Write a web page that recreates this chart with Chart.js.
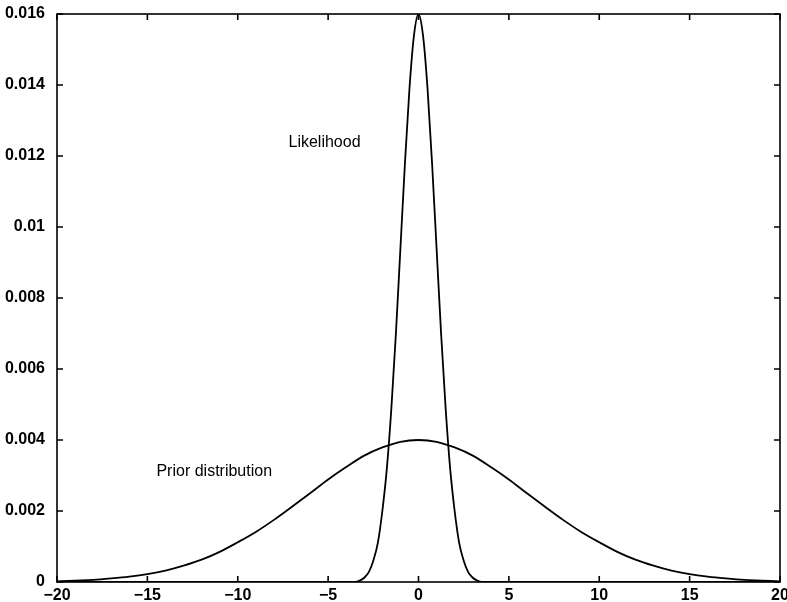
<!DOCTYPE html>
<html>
<head>
<meta charset="utf-8">
<script src="https://cdn.jsdelivr.net/npm/chart.js@4/dist/chart.umd.min.js"></script>
<style>
  html, body { margin: 0; padding: 0; background: #fff; }
  #wrap { width: 787px; height: 602px; position: relative; }
</style>
</head>
<body>
<div id="wrap"><canvas id="chart"></canvas></div>
<script>
// Prior distribution (wide curve)
const priorX = [-20, -19, -18, -17, -16, -15, -14, -13, -12, -11, -10, -9, -8, -7, -6, -5, -4, -3, -2, -1,
    0, 1, 2, 3, 4, 5, 6, 7, 8, 9, 10, 11, 12, 13, 14, 15, 16, 17, 18, 19, 20];
const priorY = [0.00002, 0.00004, 0.00006, 0.00010, 0.00015, 0.00022, 0.00032, 0.00046, 0.00063, 0.00085,
    0.00112, 0.00141, 0.00175, 0.00212, 0.00250, 0.00289, 0.00324, 0.00356, 0.00379, 0.00395,
    0.00400,
    0.00395, 0.00379, 0.00356, 0.00324, 0.00289, 0.00250, 0.00212, 0.00175, 0.00141, 0.00112,
    0.00085, 0.00063, 0.00046, 0.00032, 0.00022, 0.00015, 0.00010, 0.00006, 0.00004, 0.00002];

// Likelihood (narrow peak)
const likeX = [-20, -4, -3.5, -3.25, -3, -2.75, -2.5, -2.25, -2, -1.75, -1.5, -1.25, -1, -0.75, -0.5, -0.25,
    0, 0.25, 0.5, 0.75, 1, 1.25, 1.5, 1.75, 2, 2.25, 2.5, 2.75, 3, 3.25, 3.5, 4, 20];
const likeY = [0, 0, 0, 0.00004, 0.00012, 0.00028, 0.00060, 0.0011, 0.0020, 0.0032, 0.0049, 0.0070, 0.0094, 0.0118, 0.0139, 0.0154,
    0.0160, 0.0154, 0.0139, 0.0118, 0.0094, 0.0070, 0.0049, 0.0032, 0.0020, 0.0011, 0.00060, 0.00028, 0.00012, 0.00004, 0, 0, 0];

const xTicks = [-20, -15, -10, -5, 0, 5, 10, 15, 20];
const yTicks = [0, 0.002, 0.004, 0.006, 0.008, 0.01, 0.012, 0.014, 0.016];

const labelTexts = ['Likelihood', 'Prior distribution'];
const labelX = [-5.2, -11.3];
const labelY = [0.01237, 0.0031];

const toPoints = (xs, ys) => xs.map((x, i) => ({ x: x, y: ys[i] }));

// inward ticks, closed box, and text labels
const boxPlugin = {
    id: 'box',
    afterDraw(chart) {
        const ctx = chart.ctx;
        const a = chart.chartArea;
        const sx = chart.scales.x, sy = chart.scales.y;
        const tl = 6;
        ctx.save();
        ctx.strokeStyle = '#000';
        ctx.lineWidth = 1.6;
        ctx.strokeRect(a.left, a.top, a.right - a.left, a.bottom - a.top);
        ctx.beginPath();
        xTicks.forEach(v => {
            const px = sx.getPixelForValue(v);
            ctx.moveTo(px, a.bottom); ctx.lineTo(px, a.bottom - tl);
            ctx.moveTo(px, a.top); ctx.lineTo(px, a.top + tl);
        });
        yTicks.forEach(v => {
            const py = sy.getPixelForValue(v);
            ctx.moveTo(a.left, py); ctx.lineTo(a.left + tl, py);
            ctx.moveTo(a.right, py); ctx.lineTo(a.right - tl, py);
        });
        ctx.stroke();

        ctx.fillStyle = '#000';
        ctx.font = '16px "Liberation Sans", Arial, sans-serif';
        ctx.textAlign = 'center';
        ctx.textBaseline = 'middle';
        labelTexts.forEach((t, i) => {
            ctx.fillText(t, sx.getPixelForValue(labelX[i]), sy.getPixelForValue(labelY[i]));
        });
        ctx.restore();
    }
};

const tickFont = { family: '"Liberation Sans", Arial, sans-serif', size: 16, weight: 'bold' };

new Chart(document.getElementById('chart'), {
    type: 'scatter',
    data: {
        datasets: [
            { label: 'Prior distribution', data: toPoints(priorX, priorY), showLine: true, borderColor: '#000', borderWidth: 1.8, pointRadius: 0, cubicInterpolationMode: 'monotone' },
            { label: 'Likelihood', data: toPoints(likeX, likeY), showLine: true, borderColor: '#000', borderWidth: 1.8, pointRadius: 0, cubicInterpolationMode: 'monotone' }
        ]
    },
    options: {
        responsive: true,
        maintainAspectRatio: false,
        animation: false,
        layout: { padding: { left: 0, right: 7, top: 14, bottom: 0 } },
        plugins: { legend: { display: false }, tooltip: { enabled: false } },
        scales: {
            x: {
                type: 'linear', min: -20, max: 20,
                grid: { display: false },
                border: { display: false },
                afterBuildTicks: s => { s.ticks = xTicks.map(v => ({ value: v })); },
                afterFit: s => { s.height = 20; s.paddingLeft = 0; s.paddingRight = 0; },
                ticks: {
                    color: '#000', font: tickFont, padding: -4, maxRotation: 0,
                    callback: v => (v < 0 ? '\u2212' + Math.abs(v) : String(v))
                }
            },
            y: {
                type: 'linear', min: 0, max: 0.016,
                grid: { display: false },
                border: { display: false },
                afterBuildTicks: s => { s.ticks = yTicks.map(v => ({ value: v })); },
                afterFit: s => { s.width = 57; s.paddingTop = 0; s.paddingBottom = 0; },
                ticks: {
                    color: '#000', font: tickFont, padding: 4,
                    callback: v => String(+v.toFixed(3))
                }
            }
        }
    },
    plugins: [boxPlugin]
});
</script>
</body>
</html>
